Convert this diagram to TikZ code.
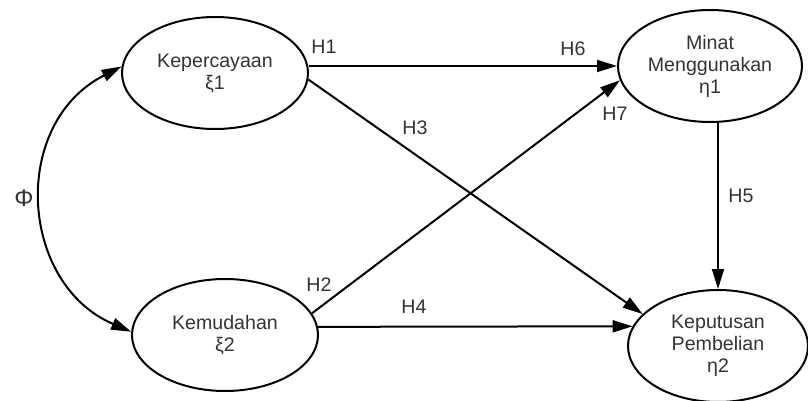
\documentclass[tikz,border=0pt]{standalone}
\usepackage{fontspec}
\setmainfont{Liberation Sans}
\usetikzlibrary{arrows.meta,shapes.geometric}

\begin{document}
\begin{tikzpicture}[x=0.5pt, y=-0.5pt,
    latent/.style={ellipse, draw, line width=1pt, inner sep=0pt,
      minimum width=93pt, minimum height=56pt, align=center,
      text=black!80, font=\fontsize{9.8}{11}\selectfont},
    hyp/.style={text=black!80, font=\fontsize{9.8}{11}\selectfont},
    path/.style={line width=1pt, -{Triangle[length=10pt,width=6pt]}}]
  \useasboundingbox (0,0) rectangle (808,401);
  % Constructs: two exogenous on the left, two endogenous on the right.
  \node[latent] (kep) at (215,73) {Kepercayaan\\ξ1};
  \node[latent] (kem) at (225,335) {Kemudahan\\ξ2};
  \node[latent, minimum width=92pt] (min) at (710,66) {Minat\\Menggunakan\\η1};
  \node[latent, minimum width=90pt] (kpt) at (718,346) {Keputusan\\Pembelian\\η2};
  % Paths.
  \draw[path] (kep.east |- min.west) -- (min.west);
  \draw[path] (kep.-4) -- (kpt.157);
  \draw[path] (kem.14) -- (min.189);
  \draw[path] (kem.5) -- (kpt.167);
  \draw[path] (kpt.north |- min.south) -- (kpt.north);
  % Correlation between the exogenous constructs.
  \draw[line width=1pt, {Triangle[length=10pt,width=6pt]}-{Triangle[length=10pt,width=6pt]}]
    (kep.176) .. controls +(-112,57) and +(-112,-48) .. (kem.178);
  % Labels.
  \node[hyp, font=\fontsize{12}{12}\selectfont] (phi) at (24,198) {Φ};
  \node[hyp] (h1) at (324,47) {H1};
  \node[hyp] (h6) at (573,49) {H6};
  \node[hyp] (h3) at (415,128) {H3};
  \node[hyp] (h7) at (615,114) {H7};
  \node[hyp] (h2) at (319,285) {H2};
  \node[hyp] (h4) at (414,307) {H4};
  \node[hyp] (h5) at (741,196) {H5};
\end{tikzpicture}
\end{document}
